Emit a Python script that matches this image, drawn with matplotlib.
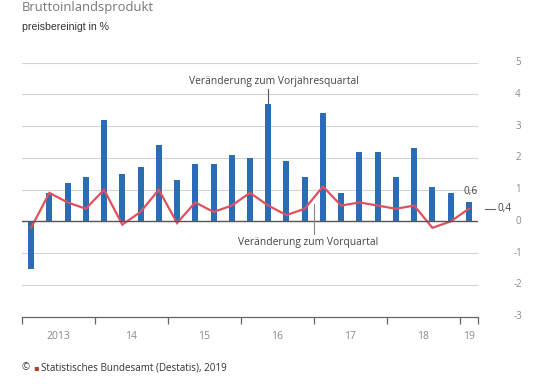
import matplotlib
matplotlib.use("Agg")
import matplotlib.pyplot as plt
import numpy as np

# Data: price-adjusted GDP change in %, quarters 2013Q1 .. 2019Q1
quarters = [f"{y}Q{q}" for y in range(2013, 2020) for q in range(1, 5)][:25]
yoy = [-1.5, 0.9, 1.2, 1.4, 3.2, 1.5, 1.7, 2.4, 1.3, 1.8, 1.8, 2.1, 2.0,
       3.7, 1.9, 1.4, 3.4, 0.9, 2.2, 2.2, 1.4, 2.3, 1.1, 0.9, 0.6]
qoq = [-0.2, 0.9, 0.6, 0.4, 1.0, -0.1, 0.3, 1.0, -0.05, 0.6, 0.3, 0.5, 0.9,
       0.5, 0.2, 0.4, 1.1, 0.5, 0.6, 0.5, 0.4, 0.5, -0.2, 0.0, 0.4]
year_labels = ["2013", "14", "15", "16", "17", "18", "19"]
y_ticks = [-3, -2, -1, 0, 1, 2, 3, 4, 5]

FONT = "Open Sans"
BLUE = "#2a6db5"
RED = "#e0505f"
GRID = "#d4d4d4"
TXT = "#8a8a8a"

fig = plt.figure(figsize=(5.38, 3.89), dpi=100)
ax = fig.add_axes([22/538, 1 - 316.7/389, (478 - 22)/538, (316.7 - 62.7)/389])

x = np.arange(len(quarters))
ax.bar(x, yoy, width=0.33, color=BLUE, zorder=3)
ax.plot(x, qoq, color=RED, lw=1.6, zorder=4, solid_joinstyle="miter")

ax.set_xlim(-0.5, len(quarters) - 0.5)
ax.set_ylim(-3, 5)

for v in y_ticks:
    if v == -3:
        continue
    if v == 0:
        ax.axhline(0, color="#555555", lw=1.0, zorder=5)
    else:
        ax.axhline(v, color=GRID, lw=0.8, zorder=1)

for s in ["top", "right", "left"]:
    ax.spines[s].set_visible(False)
ax.spines["bottom"].set_color("#666666")
ax.spines["bottom"].set_linewidth(0.9)

# year boundaries as ticks
bounds = [-0.5, 3.5, 7.5, 11.5, 15.5, 19.5, 23.5, 24.5]
ax.set_xticks(bounds)
ax.set_xticklabels([])
ax.tick_params(axis="x", direction="out", length=5, width=0.9, color="#666666")
ax.set_yticks([])

# year labels centered between bounds
for i, lab in enumerate(year_labels):
    cx = (bounds[i] + bounds[i + 1]) / 2
    ax.text(cx, -3.62, lab, ha="center", va="center", fontsize=7.5,
            color=TXT, family=FONT)

# right axis labels
trans = ax.get_yaxis_transform()
for v in y_ticks:
    ax.text(1 + (518 - 478)/456, v, f"{v}",
            transform=trans, ha="center", va="center", fontsize=7,
            color=TXT, family=FONT)

# annotations
ax.text(13.3, 4.4, "Veränderung zum Vorjahresquartal", ha="center", va="center",
        fontsize=7.4, color="#444444", family=FONT)
ax.plot([13, 13], [3.72, 4.18], color="#555555", lw=0.8, zorder=6)
ax.text(15.2, -0.65, "Veränderung zum Vorquartal", ha="center", va="center",
        fontsize=7.4, color="#444444", family=FONT)
ax.plot([15.5, 15.5], [0.55, -0.38], color="#888888", lw=0.8, zorder=6)

# end value labels
ax.text(24.1, yoy[-1] + 0.18, "0,6", ha="center", va="bottom",
        fontsize=7.2, color="#444444", family=FONT)
ax.plot([24.9, 25.45], [qoq[-1], qoq[-1]], color="#666666", lw=0.8, clip_on=False)
ax.text(25.55, qoq[-1], "0,4", ha="left", va="center", fontsize=7.2,
        color="#444444", family=FONT)

# titles
fig.text(22/538, 1 - 7/389, "Bruttoinlandsprodukt", ha="left", va="center",
         fontsize=9.4, color="#777777", family=FONT)
fig.text(22/538, 1 - 27/389, "preisbereinigt in %", ha="left", va="center",
         fontsize=7.6, color="#333333", family="Liberation Sans")

# footer
fig.text(22/538, 1 - 368/389, "©", ha="left", va="center", fontsize=7,
         color="#333333", family=FONT)
fig.text(33/538, 1 - 368/389, "▪", ha="left", va="center", fontsize=6,
         color="#c0392b", family="DejaVu Sans")
fig.text(41/538, 1 - 368/389, "Statistisches Bundesamt (Destatis), 2019",
         ha="left", va="center", fontsize=7.1, color="#333333", family=FONT)

fig.savefig("out.png", dpi=100)
